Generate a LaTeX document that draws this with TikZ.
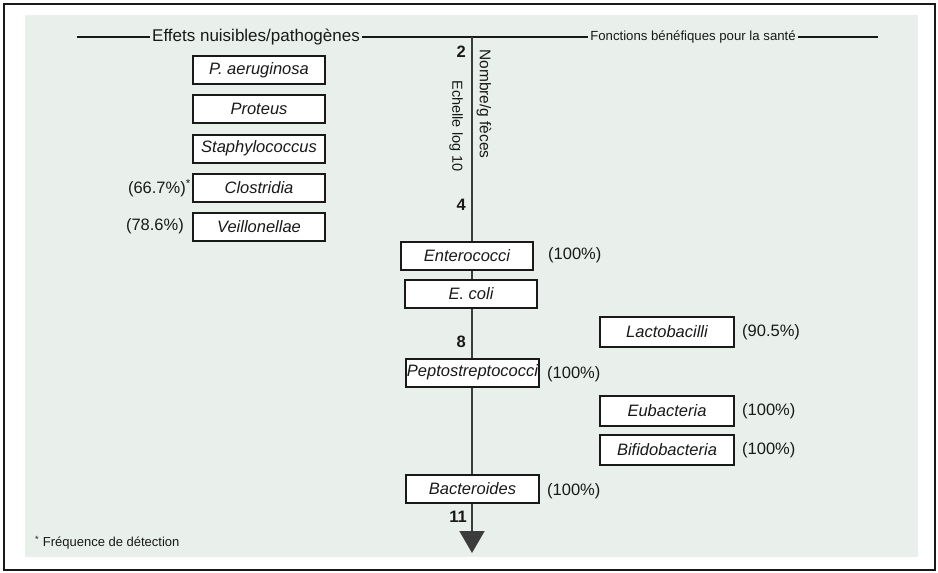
\documentclass[tikz,border=0pt]{standalone}
\usepackage{fontspec}
\setmainfont{Liberation Sans}
\usetikzlibrary{arrows.meta}
\definecolor{bgpale}{RGB}{233,240,235}
\definecolor{ink}{RGB}{25,25,25}
\definecolor{axisgray}{RGB}{60,60,60}
\tikzset{
  boxnode/.style={draw=ink, line width=2pt, fill=white, minimum width=132pt, minimum height=28pt,
    inner xsep=1pt, inner ysep=0pt, font=\fontsize{16.5}{18}\selectfont\itshape, text=ink},
  pct/.style={font=\fontsize{16.5}{18}\selectfont, text=ink, inner sep=0pt},
  ticklab/.style={font=\fontsize{16.5}{18}\selectfont\bfseries, text=ink, inner sep=0pt},
  ttl/.style={text=ink, inner sep=2pt},
  rul/.style={draw=ink, line width=1.3pt},
  axisline/.style={draw=axisgray, line width=1.9pt, -{Triangle[length=22pt,width=25pt]}},
  rotlab/.style={rotate=-90, text=ink, inner sep=0pt}
}
\begin{document}
\begin{tikzpicture}[x=1pt,y=-1pt]
\useasboundingbox (0,0) rectangle (938,573);
% background and frame
\fill[white] (0,0) rectangle (938,573);
\fill[bgpale] (25,15) rectangle (918,557);
\draw[ink, line width=1.8pt] (4,4) rectangle (935,570);

% titles
\node[ttl, font=\fontsize{17}{19}\selectfont] (tl) at (256,37) {Effets nuisibles/pathogènes};
\node[ttl, font=\fontsize{13.2}{15}\selectfont] (tr) at (693,37) {Fonctions bénéfiques pour la santé};
\coordinate (tlstart) at (77,37);
\coordinate (trend) at (878,37);
\draw[rul] (tlstart) -- (tl.west);
\draw[rul] (tl.east) -- (tr.west);
\draw[rul] (tr.east) -- (trend);

% axis
\coordinate (axtop) at (472,37);
\coordinate (axbot) at (472,553);
\draw[axisline] (axtop) -- (axbot);

\node[ticklab, anchor=east] (t2) at (466,52) {2};
\node[ticklab, anchor=east] (t4) at (466,205) {4};
\node[ticklab, anchor=east] (t8) at (466,342) {8};
\node[ticklab, anchor=east] (t11) at (467,517) {11};

\node[rotlab, font=\fontsize{15.5}{17}\selectfont] (nomb) at (484,104) {Nombre/g fèces};
\node[rotlab, font=\fontsize{14.5}{16}\selectfont] (ech) at (456,126) {Echelle log 10};

% left boxes
\node[boxnode] (pae) at (259,70) {P. aeruginosa};
\node[boxnode] (pro) at (259,108.5) {Proteus};
\node[boxnode] (sta) at (259,148.5) {Staphylococcus};
\node[boxnode] (clo) at (259,188) {Clostridia};
\node[boxnode] (vei) at (259,226.5) {Veillonellae};
\node[pct, anchor=east] (pclo) at (191,188) {(66.7\%)\textsuperscript{*}};
\node[pct, anchor=east] (pvei) at (184,226.5) {(78.6\%)};

% central boxes
\node[boxnode] (ent) at (467,255.5) {Enterococci};
\node[boxnode] (eco) at (471,294) {E. coli};
\node[boxnode, minimum width=133pt] (pep) at (472.5,372.5) {Peptostreptococci};
\node[boxnode, minimum width=133pt] (bac) at (472.5,489) {Bacteroides};
\node[pct, anchor=west] (pent) at (548,255.5) {(100\%)};
\node[pct, anchor=west] (ppep) at (547,374) {(100\%)};
\node[pct, anchor=west] (pbac) at (547,491) {(100\%)};

% right boxes
\node[boxnode, minimum width=134pt, minimum height=30pt] (lac) at (667,332) {Lactobacilli};
\node[boxnode, minimum width=134pt, minimum height=30pt] (eub) at (667,410.5) {Eubacteria};
\node[boxnode, minimum width=134pt, minimum height=30pt] (bif) at (667,450) {Bifidobacteria};
\node[pct, anchor=west] (plac) at (742,332) {(90.5\%)};
\node[pct, anchor=west] (peub) at (742,411) {(100\%)};
\node[pct, anchor=west] (pbif) at (742,450) {(100\%)};

% footnote
\node[anchor=west, inner sep=0pt, text=ink, font=\fontsize{13}{15}\selectfont] (foot) at (35,543) {\textsuperscript{*} Fréquence de détection};
\end{tikzpicture}
\end{document}
